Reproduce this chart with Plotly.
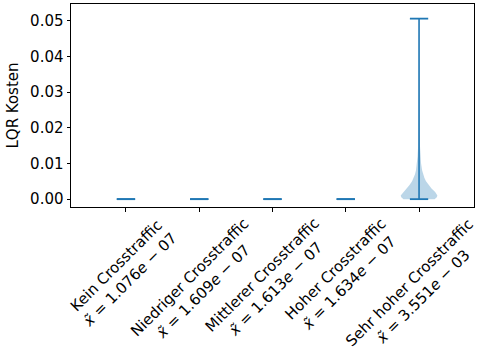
import plotly.graph_objects as go

# Categories and summary statistics of the LQR cost per scenario
categories = [
    "Kein Crosstraffic",
    "Niedriger Crosstraffic",
    "Mittlerer Crosstraffic",
    "Hoher Crosstraffic",
    "Sehr hoher Crosstraffic",
]
median_labels = ["1.076", "1.609", "1.613", "1.634", "3.551"]
median_exps = ["07", "07", "07", "07", "03"]
minima = [0.0, 0.0, 0.0, 0.0, 0.0]
maxima = [2e-6, 3e-6, 3e-6, 3e-6, 0.0506]

# Density profile (relative width) of the last scenario's distribution
dens_y = [0.0, 0.0005, 0.001, 0.0015, 0.002, 0.003, 0.004, 0.005, 0.006,
          0.007, 0.008, 0.010, 0.012, 0.015, 0.020, 0.030, 0.040, 0.0506]
dens_w = [0.85, 0.97, 1.0, 0.96, 0.88, 0.68, 0.52, 0.38, 0.29,
          0.22, 0.17, 0.11, 0.08, 0.05, 0.03, 0.02, 0.015, 0.01]

y_ticks = [0.0, 0.01, 0.02, 0.03, 0.04, 0.05]

BLUE = "#1f77b4"
FONT = "DejaVu Sans"
FS = 15
HALF_W = 0.25       # maximum half-width of a violin body
CAP_HALF = 0.125    # half-width of the extrema caps

positions = list(range(1, len(categories) + 1))

fig = go.Figure()

# Violin body of the last scenario
pos = positions[-1]
xs = [pos + HALF_W * w for w in dens_w] + [pos - HALF_W * w for w in reversed(dens_w)]
ys = dens_y + list(reversed(dens_y))
fig.add_trace(go.Scatter(
    x=xs, y=ys, mode="lines", fill="toself",
    fillcolor="rgba(31,119,180,0.3)", line=dict(width=0),
    hoverinfo="skip", showlegend=False,
))

# Extrema caps and vertical bars
cx, cy, vx, vy = [], [], [], []
for p, lo, hi in zip(positions, minima, maxima):
    for v in (lo, hi):
        cx += [p - CAP_HALF, p + CAP_HALF, None]
        cy += [v, v, None]
    vx += [p, p, None]
    vy += [lo, hi, None]
fig.add_trace(go.Scatter(x=vx, y=vy, mode="lines",
                         line=dict(color=BLUE, width=1.6),
                         hoverinfo="skip", showlegend=False))
fig.add_trace(go.Scatter(x=cx, y=cy, mode="lines",
                         line=dict(color=BLUE, width=1.8),
                         hoverinfo="skip", showlegend=False))

# Rotated two-line category labels
for p, name, m, e in zip(positions, categories, median_labels, median_exps):
    fig.add_annotation(
        x=p, xref="x", y=-0.025, yref="paper",
        xanchor="center", yanchor="top", xshift=-3,
        text=f"{name}<br><i>x̃</i> = {m}<i>e</i> − {e}",
        textangle=-45, showarrow=False, align="center",
        font=dict(family=FONT, size=FS, color="black"),
    )

fig.update_xaxes(
    range=[0.25, 5.75], tickvals=positions, showticklabels=False,
    ticks="outside", ticklen=3.5, tickwidth=0.8, tickcolor="black",
    showline=True, linecolor="black", linewidth=1, mirror=True,
    showgrid=False, zeroline=False,
)
fig.update_yaxes(
    range=[-0.0022, 0.0547], tickvals=y_ticks, tickformat=".2f",
    ticks="outside", ticklen=3.5, tickwidth=0.8, tickcolor="black",
    showline=True, linecolor="black", linewidth=1, mirror=True,
    showgrid=False, zeroline=False,
    title=dict(text="LQR Kosten", standoff=7,
               font=dict(family=FONT, size=FS, color="black")),
    tickfont=dict(family=FONT, size=FS, color="black"),
)
fig.update_layout(
    width=479, height=356,
    margin=dict(l=71, r=5, t=4, b=149),
    paper_bgcolor="white", plot_bgcolor="white",
    font=dict(family=FONT, size=FS, color="black"),
)

fig.write_html("out.html")
